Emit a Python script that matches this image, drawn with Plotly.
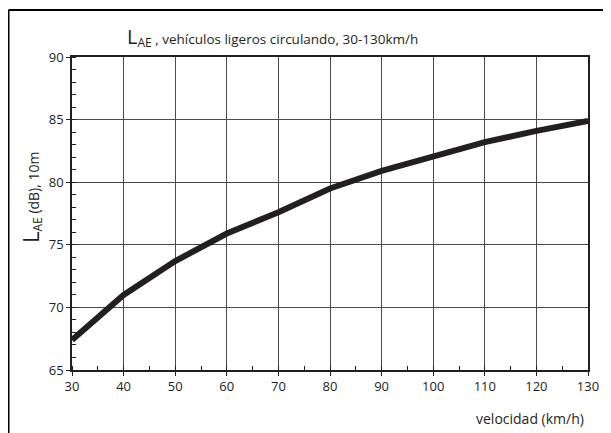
import plotly.graph_objects as go

velocidad = [30, 40, 50, 60, 70, 80, 90, 100, 110, 120, 130]
lae = [67.4, 71.0, 73.7, 75.9, 77.6, 79.5, 80.9, 82.0, 83.2, 84.1, 84.9]
x_ticks = [30, 40, 50, 60, 70, 80, 90, 100, 110, 120, 130]
y_ticks = [65, 70, 75, 80, 85, 90]

FONT = "Liberation Sans Narrow, Open Sans, sans-serif"
INK = "#231f20"

# page is rendered with an 8px body margin; work in page pixels
OFF = 8
PAGE_W, PAGE_H = 611, 433
W, H = PAGE_W - OFF, PAGE_H - OFF
PL, PR, PT, PB = 72, 588, 57, 370  # plot area in page pixels
L, R, T, B = PL - OFF, PAGE_W - PR, PT - OFF, PAGE_H - PB
pw, ph = PR - PL, PB - PT

def px2paper_x(px):
    return (px - PL) / pw

def px2paper_y(py):
    return (PB - py) / ph

fig = go.Figure()
fig.add_trace(go.Scatter(x=velocidad, y=lae, mode="lines",
                         line=dict(color=INK, width=6), showlegend=False))

fig.update_layout(
    width=W, height=H,
    margin=dict(l=L, r=R, t=T, b=B, pad=0),
    paper_bgcolor="white", plot_bgcolor="white",
    font=dict(family=FONT, color=INK, size=13),
    xaxis=dict(range=[30, 130], tickvals=x_ticks, showgrid=True,
               gridcolor="#4a4a4a", gridwidth=1.4, showline=True,
               linecolor=INK, linewidth=1.5, mirror=True,
               ticks="outside", ticklen=4, tickcolor=INK,
               minor=dict(dtick=5, ticks="inside", ticklen=4, tickcolor=INK, showgrid=False),
               zeroline=False, tickfont=dict(size=13, family=FONT, color=INK)),
    yaxis=dict(range=[65, 90], tickvals=y_ticks, showgrid=True,
               gridcolor="#4a4a4a", gridwidth=1.4, showline=True,
               linecolor=INK, linewidth=1.5, mirror=True,
               ticks="outside", ticklen=4, tickcolor=INK,
               minor=dict(dtick=1, ticks="inside", ticklen=4, tickcolor=INK, showgrid=False),
               zeroline=False, tickfont=dict(size=13, family=FONT, color=INK)),
)

# frame lines (top and left)
fig.add_shape(type="line", xref="paper", yref="paper",
              x0=px2paper_x(8.5), x1=px2paper_x(625), y0=px2paper_y(10), y1=px2paper_y(10),
              line=dict(color="black", width=2))
fig.add_shape(type="line", xref="paper", yref="paper",
              x0=px2paper_x(8.5), x1=px2paper_x(8.5), y0=px2paper_y(10), y1=px2paper_y(445),
              line=dict(color="black", width=2))

# title
fig.add_annotation(xref="paper", yref="paper", x=px2paper_x(272), y=px2paper_y(37),
                   text="<span style='font-size:20px'>L</span><sub><span style='font-size:12px'>AE</span></sub> , vehículos ligeros circulando, 30-130km/h",
                   showarrow=False, font=dict(size=13.5, family=FONT, color=INK),
                   xanchor="center", yanchor="middle")
# y label
fig.add_annotation(xref="paper", yref="paper", x=px2paper_x(30), y=px2paper_y(198),
                   text="<span style='font-size:22px'>L</span><sub><span style='font-size:12px'>AE</span></sub> (dB), 10m",
                   textangle=-90, showarrow=False, font=dict(size=14, family=FONT, color=INK),
                   xanchor="center", yanchor="middle")
# x label
fig.add_annotation(xref="paper", yref="paper", x=px2paper_x(586), y=px2paper_y(418),
                   text="velocidad (km/h)", showarrow=False,
                   font=dict(size=14, family=FONT, color=INK),
                   xanchor="right", yanchor="middle")

fig.write_html("out.html")
